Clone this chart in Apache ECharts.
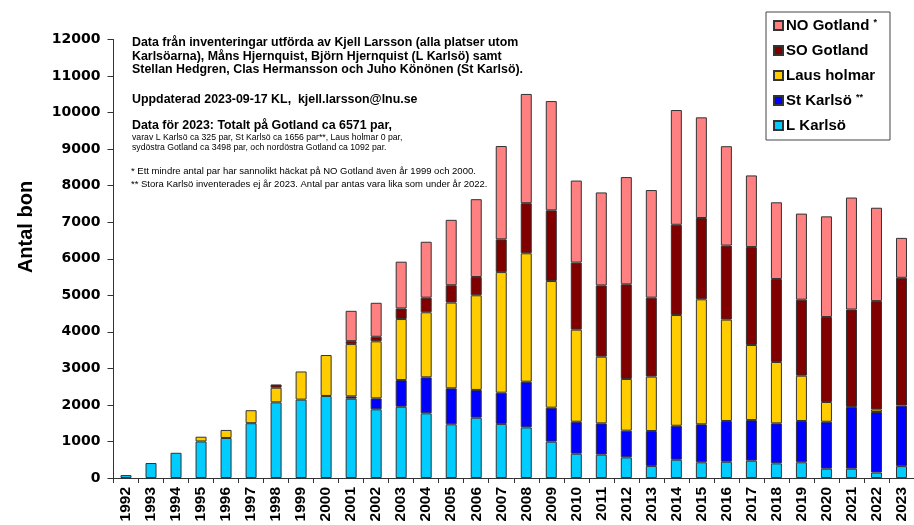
<!DOCTYPE html>
<html>
<head>
<meta charset="utf-8">
<script src="https://cdn.jsdelivr.net/npm/echarts@6/dist/echarts.min.js"></script>
<style>
html,body{margin:0;padding:0;background:#fff;}
#chart{width:914px;height:525px;}
</style>
</head>
<body>
<div id="chart"></div>
<script>
var years = ['1992','1993','1994','1995','1996','1997','1998','1999','2000','2001','2002','2003','2004','2005','2006','2007','2008','2009','2010','2011','2012','2013','2014','2015','2016','2017','2018','2019','2020','2021','2022','2023'];
var lKarlso   = [80,410,690,1000,1095,1500,2070,2145,2245,2170,1880,1950,1770,1470,1650,1480,1385,995,665,640,565,330,500,430,445,475,400,430,255,255,150,325];
var stKarlso  = [0,0,0,0,0,0,0,0,0,65,300,730,985,985,760,855,1250,930,875,855,730,955,930,1040,1115,1110,1095,1130,1285,1690,1656,1656];
var lausHolmar= [0,0,0,130,220,355,400,770,1120,1430,1560,1670,1780,2345,2590,3300,3515,3465,2520,1825,1415,1490,3030,3420,2775,2055,1680,1240,540,0,70,0];
var soGotland = [0,0,0,0,0,0,90,0,0,80,125,290,400,475,500,895,1370,1935,1835,1950,2590,2160,2470,2225,2025,2680,2270,2080,2325,2665,2965,3498];
var noGotland = [0,0,0,0,0,0,0,0,0,830,930,1280,1530,1790,2130,2555,2990,2990,2245,2545,2935,2945,3140,2755,2720,1960,2100,2355,2755,3065,2555,1092];
var yTicks = {min:0, max:12000, interval:1000};

var FONT = 'Liberation Sans, Arial, sans-serif';
function nz(arr){ return arr.map(function(v){ return v === 0 ? '-' : v; }); }
function mk(name, data, color){
  return {
    name: name, type: 'bar', stack: 'total', data: nz(data),
    barWidth: 11,
    itemStyle: {color: color, borderColor: '#333', borderWidth: 1},
    emphasis: {disabled: true}
  };
}

var chart = echarts.init(document.getElementById('chart'));
chart.setOption({
  animation: false,
  backgroundColor: '#fff',
  grid: {left: 113.5, top: 39.5, width: 805, height: 438.5, containLabel: false},
  legend: {
    orient: 'vertical', left: 766, top: 12,
    data: ['NO Gotland','SO Gotland','Laus holmar','St Karlsö','L Karlsö'],
    itemWidth: 9, itemHeight: 9, itemGap: 10,
    icon: 'rect',
    borderColor: '#444', borderWidth: 1, padding: [6, 13, 7, 7],
    backgroundColor: '#fff',
    selectedMode: false,
    formatter: function(n){
      if (n === 'NO Gotland') return '{a|' + n + '} {s|*}';
      if (n === 'St Karlsö') return '{a|' + n + '} {s|**}';
      return '{a|' + n + '}';
    },
    textStyle: {
      fontFamily: FONT, fontWeight: 'bold', fontSize: 15, color: '#000', padding: [0,0,0,-2],
      rich: {
        a: {fontFamily: FONT, fontWeight: 'bold', fontSize: 15, color: '#000'},
        s: {fontFamily: FONT, fontSize: 9, color: '#000', verticalAlign: 'top', padding: [0,0,6,0]}
      }
    }
  },
  xAxis: {
    type: 'category', data: years,
    axisLine: {lineStyle: {color: '#333', width: 1}},
    axisTick: {show: true, interval: 0, length: 5, lineStyle: {color: '#333'}},
    axisLabel: {interval: 0, rotate: 90, margin: 9, fontFamily: FONT, fontWeight: 'bold', fontSize: 15.5, color: '#000'},
    splitLine: {show: false}
  },
  yAxis: {
    type: 'value', min: yTicks.min, max: yTicks.max, interval: yTicks.interval,
    axisLine: {show: true, lineStyle: {color: '#333', width: 1}},
    axisTick: {show: true, length: 6, lineStyle: {color: '#333'}},
    axisLabel: {margin: 13, fontFamily: 'DejaVu Sans, sans-serif', fontWeight: 'bold', fontSize: 14, color: '#000',
      formatter: function(v){ return String(v); }},
    splitLine: {show: false}
  },
  graphic: [
    {type: 'text', x: 26, y: 227, rotation: Math.PI/2,
     style: {text: 'Antal bon', fontFamily: FONT, fontWeight: 'bold', fontSize: 20, fill: '#000', textAlign: 'center', textVerticalAlign: 'middle'}},
    {type: 'text', left: 132, top: 36,
     style: {text: 'Data från inventeringar utförda av Kjell Larsson (alla platser utom\nKarlsöarna), Måns Hjernquist, Björn Hjernquist (L Karlsö) samt\nStellan Hedgren, Clas Hermansson och Juho Könönen (St Karlsö).',
       fontFamily: FONT, fontWeight: 'bold', fontSize: 12.4, lineHeight: 13.5, fill: '#000'}},
    {type: 'text', left: 132, top: 94,
     style: {text: 'Uppdaterad 2023-09-17 KL,  kjell.larsson@lnu.se', fontFamily: FONT, fontWeight: 'bold', fontSize: 12.4, fill: '#000'}},
    {type: 'text', left: 132, top: 120,
     style: {text: 'Data för 2023: Totalt på Gotland ca 6571 par,', fontFamily: FONT, fontWeight: 'bold', fontSize: 12.4, fill: '#000'}},
    {type: 'text', left: 132, top: 133,
     style: {text: 'varav L Karlsö ca 325 par, St Karlsö ca 1656 par**, Laus holmar 0 par,\nsydöstra Gotland ca 3498 par, och nordöstra Gotland ca 1092 par.',
       fontFamily: FONT, fontSize: 8.7, lineHeight: 10, fill: '#000'}},
    {type: 'text', left: 131, top: 164.5,
     style: {text: '* Ett mindre antal par har sannolikt häckat på NO Gotland även år 1999 och 2000.\n** Stora Karlsö inventerades ej år 2023. Antal par antas vara lika som under år 2022.',
       fontFamily: FONT, fontSize: 9.5, lineHeight: 13, fill: '#000'}}
  ],
  series: [
    mk('L Karlsö', lKarlso, '#00CCFF'),
    mk('St Karlsö', stKarlso, '#0000FF'),
    mk('Laus holmar', lausHolmar, '#FFCC00'),
    mk('SO Gotland', soGotland, '#800000'),
    mk('NO Gotland', noGotland, '#FF8080')
  ]
});
</script>
</body>
</html>
